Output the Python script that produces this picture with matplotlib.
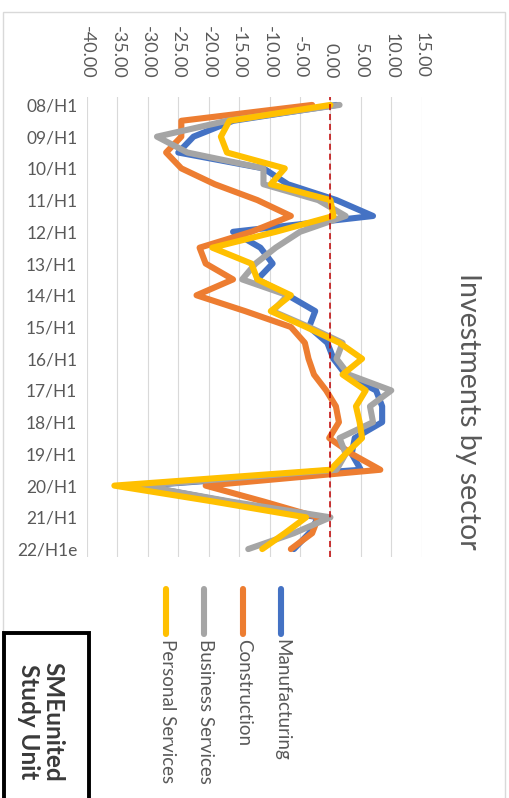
import matplotlib
matplotlib.use("Agg")
import matplotlib.pyplot as plt
from matplotlib.lines import Line2D
from matplotlib.patches import Rectangle

W, H = 509, 798

# half-year periods, only every second one gets a label
periods = ["08/H1", "08/H2", "09/H1", "09/H2", "10/H1", "10/H2", "11/H1", "11/H2",
           "12/H1", "12/H2", "13/H1", "13/H2", "14/H1", "14/H2", "15/H1", "15/H2",
           "16/H1", "16/H2", "17/H1", "17/H2", "18/H1", "18/H2", "19/H1", "19/H2",
           "20/H1", "20/H2", "21/H1", "21/H2", "22/H1e"]

manufacturing = [1.0, -16, -22.5, -25, -11, -7, 1, 7, -16, -11.5, -9.5, -12, -7, -2.5,
                 -3.5, -0.5, 0.5, 2.5, 7.5, 8.5, 8.5, 4, 3.5, 5, -31, -17, -2, -3.5, -6]
construction = [-3, -24.5, -24.5, -27, -24.5, -19, -12, -6.5, -13, -21.5, -20.5, -16, -22, -14,
                -6.5, -4.2, -3.6, -2.7, -0.7, 0.9, 1.4, -0.2, 3.5, 8.2, -20.5, -11, -2, -3, -6.5]
business = [1.5, -17, -28.5, -23.5, -11, -11, -2, 2.5, -5, -9, -12.3, -14.5, -7, -9.5,
            -3.5, 2, 1, 3, 10, 6.5, 7, 1.5, 2.5, 1, -31, -16.5, 0, -6, -13.5]
personal = [0, -16.6, -18, -17, -7.5, -9.8, 0, 0.5, -9, -19.4, -13, -12, -6.5, -9.8,
            -4, 1.5, 5.2, 2, 5.8, 4.2, 4.8, 5.2, 2.5, 0, -35.5, -19.3, -4, -7.5, -11.2]

series_names = ["Manufacturing", "Construction", "Business Services", "Personal Services"]
series_colors = ["#4472C4", "#ED7D31", "#A5A5A5", "#FFC000"]
value_ticks = [-40, -35, -30, -25, -20, -15, -10, -5, 0, 5, 10, 15]

TXT = "#595959"
plt.rcParams["font.family"] = ["Lato", "DejaVu Sans"]


def fx(px):
    return px / W


def fy(py):
    return 1 - py / H


fig = plt.figure(figsize=(W / 100, H / 100), dpi=100)

# outer chart frame
fig.add_artist(Rectangle((fx(3), fy(830)), fx(502), 830 / H - 12 / H,
                         transform=fig.transFigure, fill=False,
                         edgecolor="#D9D9D9", lw=1.0))

left, right, top, bottom = 87, 421.7, 97, 557
ax = fig.add_axes([fx(left), fy(bottom), fx(right - left), (bottom - top) / H])

pos = list(range(len(periods)))
for vals, col in zip([manufacturing, construction, business, personal], series_colors):
    ax.plot(vals, pos, color=col, lw=4.4, solid_joinstyle="round",
            solid_capstyle="round", zorder=3)

ax.axvline(0, color="#C00000", lw=1.1, ls=(0, (4, 2.5)), zorder=5)

ax.set_xlim(-40, 15)
ax.set_ylim(len(periods) - 0.5, -0.5)
ax.set_xticks(value_ticks)
ax.set_xticklabels([f"{v:.2f}" for v in value_ticks])
ax.xaxis.tick_top()
ax.tick_params(axis="x", length=0, pad=13.5, labelrotation=-90, labelsize=13,
               labelcolor=TXT)
ax.set_yticks(pos[::2])
ax.set_yticklabels(periods[::2])
ax.tick_params(axis="y", length=0, pad=7, labelsize=12.5, labelcolor=TXT)
ax.grid(axis="x", color="#D9D9D9", lw=0.8)
ax.set_axisbelow(True)
for s in ax.spines.values():
    s.set_visible(False)

fig.text(fx(468), fy(411), "Investments by sector", rotation=-90, ha="center",
         va="center", fontsize=20.5, color=TXT)

# legend, drawn by hand as vertical entries
legend_x = [281, 243, 204, 166]
for name, col, lx in zip(series_names, series_colors, legend_x):
    fig.add_artist(Line2D([fx(lx), fx(lx)], [fy(589), fy(634)], transform=fig.transFigure,
                          color=col, lw=4.4, solid_capstyle="round"))
    fig.text(fx(lx + 1), fy(639), name, rotation=-90, ha="center", va="top",
             fontsize=13.5, color=TXT)

# logo box
fig.add_artist(Rectangle((fx(4), fy(830)), fx(85), (830 - 633) / H,
                         transform=fig.transFigure, fill=False,
                         edgecolor="black", lw=2.8))
fig.text(fx(41), fy(722), "SMEunited\nStudy Unit", rotation=-90, ha="center",
         va="center", fontsize=17.5, fontweight="bold", color="#3A3A3A",
         linespacing=1.1, multialignment="center")

fig.savefig("out.png", dpi=100, facecolor="white")
